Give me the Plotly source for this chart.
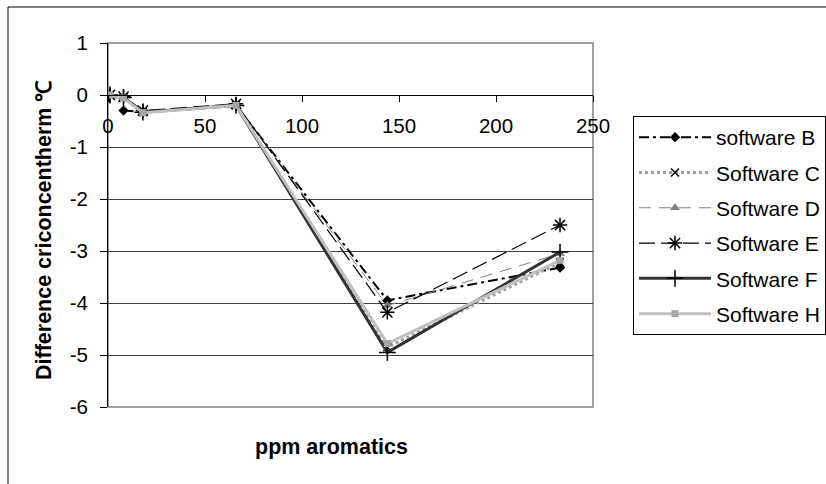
import plotly.graph_objects as go

# ---- data ----
x_ppm = [1, 8, 18, 66, 144, 233]
names = ["software B", "Software C", "Software D", "Software E", "Software F", "Software H"]
y_B = [None, -0.30, -0.32, -0.20, -3.95, -3.32]
y_C = [0.0, -0.05, -0.33, -0.20, -4.85, -3.22]
y_D = [0.0, -0.05, -0.33, -0.20, -4.05, -3.05]
y_E = [0.0, -0.03, -0.30, -0.17, -4.18, -2.50]
y_F = [0.0, -0.05, -0.33, -0.20, -4.95, -3.02]
y_H = [0.0, -0.06, -0.34, -0.20, -4.78, -3.18]
x_ticks = [0, 50, 100, 150, 200, 250]
y_ticks = [1, 0, -1, -2, -3, -4, -5, -6]
y_ticktext = ["1", "0", "-1", "-2", "-3", "-4", "-5", "-6"]

series = [y_B, y_C, y_D, y_E, y_F, y_H]
styles = [
    dict(line=dict(color="#000000", width=2, dash="10px,4px,3px,4px"),
         marker=dict(symbol="diamond", size=8, color="#000000")),
    dict(line=dict(color="#a0a0a0", width=3, dash="dot"),
         marker=dict(symbol="x-thin-open", size=8, color="#000000", line=dict(width=1.5, color="#000000"))),
    dict(line=dict(color="#808080", width=1, dash="12px,8px"),
         marker=dict(symbol="triangle-up", size=9, color="#808080")),
    dict(line=dict(color="#000000", width=1.2, dash="16px,6px"),
         marker=dict(symbol="asterisk-open", size=12, color="#000000", line=dict(width=1.5, color="#000000"))),
    dict(line=dict(color="#333333", width=3),
         marker=dict(symbol="cross-thin-open", size=12, color="#000000", line=dict(width=1.5, color="#000000"))),
    dict(line=dict(color="#c0c0c0", width=3),
         marker=dict(symbol="square", size=7, color="#a6a6a6")),
]

FONT = "Liberation Sans, Arial, sans-serif"

fig = go.Figure()
for nm, ys, st in zip(names, series, styles):
    fig.add_trace(go.Scatter(x=x_ppm, y=ys, name=nm, mode="lines+markers",
                             legendgroup=nm, connectgaps=False, **st))

W, H = 826, 484
L, R, T, B = 108, 233, 43, 77
pw, ph = W - L - R, H - T - B

def px_x(p):
    return (p - L) / pw

def px_y(p):
    return (H - B - p) / ph

fig.update_layout(
    width=W, height=H,
    margin=dict(l=L, r=R, t=T, b=B, autoexpand=False),
    paper_bgcolor="white", plot_bgcolor="white",
    font=dict(family=FONT, size=20, color="#000000"),
    showlegend=True,
    legend=dict(x=px_x(633), y=px_y(116), xanchor="left", yanchor="top",
                bordercolor="#000000", borderwidth=1, bgcolor="white",
                font=dict(size=21), tracegroupgap=5, itemwidth=72),
    xaxis=dict(range=[0, 250], tickvals=x_ticks, showgrid=False, zeroline=False,
               showline=True, linecolor="#000000", linewidth=1,
               ticks="outside", ticklen=6, tickcolor="#000000",
               anchor="free", position=6 / 7, ticklabelstandoff=6,
               tickfont=dict(size=20.5)),
    yaxis=dict(range=[-6, 1], tickvals=y_ticks, ticktext=y_ticktext,
               showgrid=True, gridcolor="#404040",
               gridwidth=1, zeroline=True, zerolinecolor="#000000", zerolinewidth=1,
               showline=True, linecolor="#000000", linewidth=1,
               ticks="outside", ticklen=7, tickcolor="#000000",
               ticklabelstandoff=8, tickfont=dict(size=20.5)),
    shapes=[
        dict(type="rect", xref="paper", yref="paper", x0=0, x1=1, y0=0, y1=1,
             line=dict(color="#808080", width=1.5), layer="below"),
        dict(type="line", xref="paper", yref="paper",
             x0=px_x(8), x1=px_x(840), y0=px_y(7), y1=px_y(7),
             line=dict(color="#000000", width=1)),
        dict(type="line", xref="paper", yref="paper",
             x0=px_x(8), x1=px_x(8), y0=px_y(7), y1=px_y(500),
             line=dict(color="#000000", width=1)),
    ],
    annotations=[
        dict(text="<b>ppm aromatics</b>", xref="paper", yref="paper",
             x=px_x(331), y=px_y(447), showarrow=False,
             xanchor="center", yanchor="middle", font=dict(size=21.5)),
        dict(text="<b>Difference criconcentherm ℃</b>", xref="paper", yref="paper",
             x=px_x(44), y=px_y(230), showarrow=False, textangle=-90,
             xanchor="center", yanchor="middle", font=dict(size=21.5)),
    ],
)

fig.write_html("out.html")
